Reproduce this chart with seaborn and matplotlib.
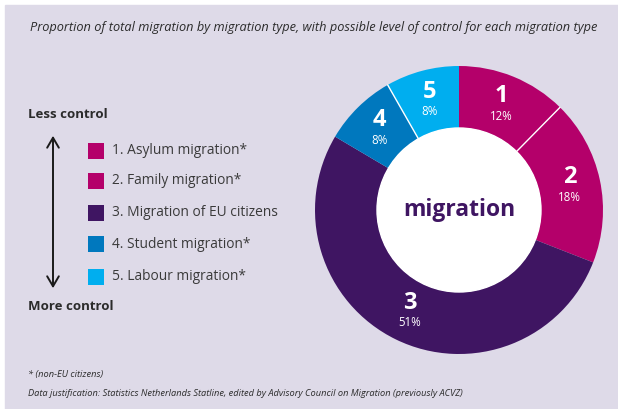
import numpy as np
import pandas as pd
import matplotlib
matplotlib.use("Agg")
import matplotlib.pyplot as plt
import seaborn as sns

# ---- data ----
numbers = ["1", "2", "3", "4", "5"]
categories = ["1. Asylum migration*", "2. Family migration*", "3. Migration of EU citizens",
              "4. Student migration*", "5. Labour migration*"]
shares = [12, 18, 51, 8, 8]
pct_labels = ["12%", "18%", "51%", "8%", "8%"]
colors = ["#B4006A", "#B4006A", "#3F1562", "#0078BE", "#00AEEF"]
separated = [False, True, False, False, True]  # white line at start of slice

title = "Proportion of total migration by migration type, with possible level of control for each migration type"
footnote1 = "* (non-EU citizens)"
footnote2 = "Data justification: Statistics Netherlands Statline, edited by Advisory Council on Migration (previously ACVZ)"

sns.set_theme(style="white")
plt.rcParams["font.family"] = ["Open Sans", "DejaVu Sans"]

W, H = 618, 409
fig = plt.figure(figsize=(W / 100, H / 100), dpi=100)
fig.patch.set_facecolor("white")

# overlay axes in pixel coords
ov = fig.add_axes([0, 0, 1, 1])
ov.set_xlim(0, W)
ov.set_ylim(H, 0)
ov.axis("off")
ov.add_patch(plt.Rectangle((5, 5), W - 5, H - 5, color="#DEDAE8", zorder=0))

TXT = "#2B2B2B"
ov.text(314, 28, title, ha="center", va="center", fontsize=9.2, style="italic", color=TXT)
ov.text(28, 375, footnote1, ha="left", va="center", fontsize=6.7, style="italic", color=TXT)
ov.text(28, 393, footnote2, ha="left", va="center", fontsize=6.7, style="italic", color=TXT)

ov.text(28, 115, "Less control", ha="left", va="center", fontsize=9.5, fontweight="bold", color=TXT)
ov.text(28, 307, "More control", ha="left", va="center", fontsize=9.5, fontweight="bold", color=TXT)
ov.annotate("", xy=(53, 133), xytext=(53, 291),
            arrowprops=dict(arrowstyle="<->,head_length=0.6,head_width=0.35", color="#1A1A1A", lw=1.4))

# legend squares via seaborn
leg_y = [151, 181, 213, 244, 277]
leg_df = pd.DataFrame({"x": [96] * 5, "y": leg_y, "cat": categories})
sns.scatterplot(data=leg_df, x="x", y="y", hue="cat", palette=dict(zip(categories, colors)),
                marker="s", s=132, linewidth=0, legend=False, ax=ov)
ov.set_xlim(0, W)
ov.set_ylim(H, 0)
ov.axis("off")
for cat, y in zip(categories, leg_y):
    ov.text(112, y, cat, ha="left", va="center", fontsize=9.9, color="#3A3A3A")

# donut
cx, cy, R, r_in = 459, 210, 144, 82
pax = fig.add_axes([(cx - R) / W, (H - cy - R) / H, 2 * R / W, 2 * R / H])
wedges, _ = pax.pie(shares, colors=colors, startangle=90, counterclock=False,
                    wedgeprops=dict(width=(R - r_in) / R, linewidth=0))
pax.set_xlim(-1, 1)
pax.set_ylim(-1, 1)
pax.set_aspect("equal")
pax.axis("off")
pax.add_patch(plt.Circle((0, 0), r_in / R, color="white", zorder=3))
pax.text(0, 0, "migration", ha="center", va="center", fontsize=16.5, fontweight="bold",
         color="#3F1562", zorder=4)

total = sum(shares)
cum = 0
for num, s, pl, sep in zip(numbers, shares, pct_labels, separated):
    if sep:
        a0 = np.deg2rad(90 - 360 * cum / total)
        pax.plot([r_in / R * np.cos(a0), np.cos(a0)], [r_in / R * np.sin(a0), np.sin(a0)],
                 color="white", lw=1.0, zorder=2)
    mid = (cum + s / 2) / total
    cum += s
    ang = np.deg2rad(90 - 360 * mid)
    rad = 113 / R
    x, y = rad * np.cos(ang), rad * np.sin(ang)
    pax.text(x, y + 9 / R, num, ha="center", va="center", fontsize=17, fontweight="bold", color="white")
    pax.text(x, y - 11 / R, pl, ha="center", va="center", fontsize=8.3, color="white")

fig.savefig("out.png", dpi=100, facecolor=fig.get_facecolor())
